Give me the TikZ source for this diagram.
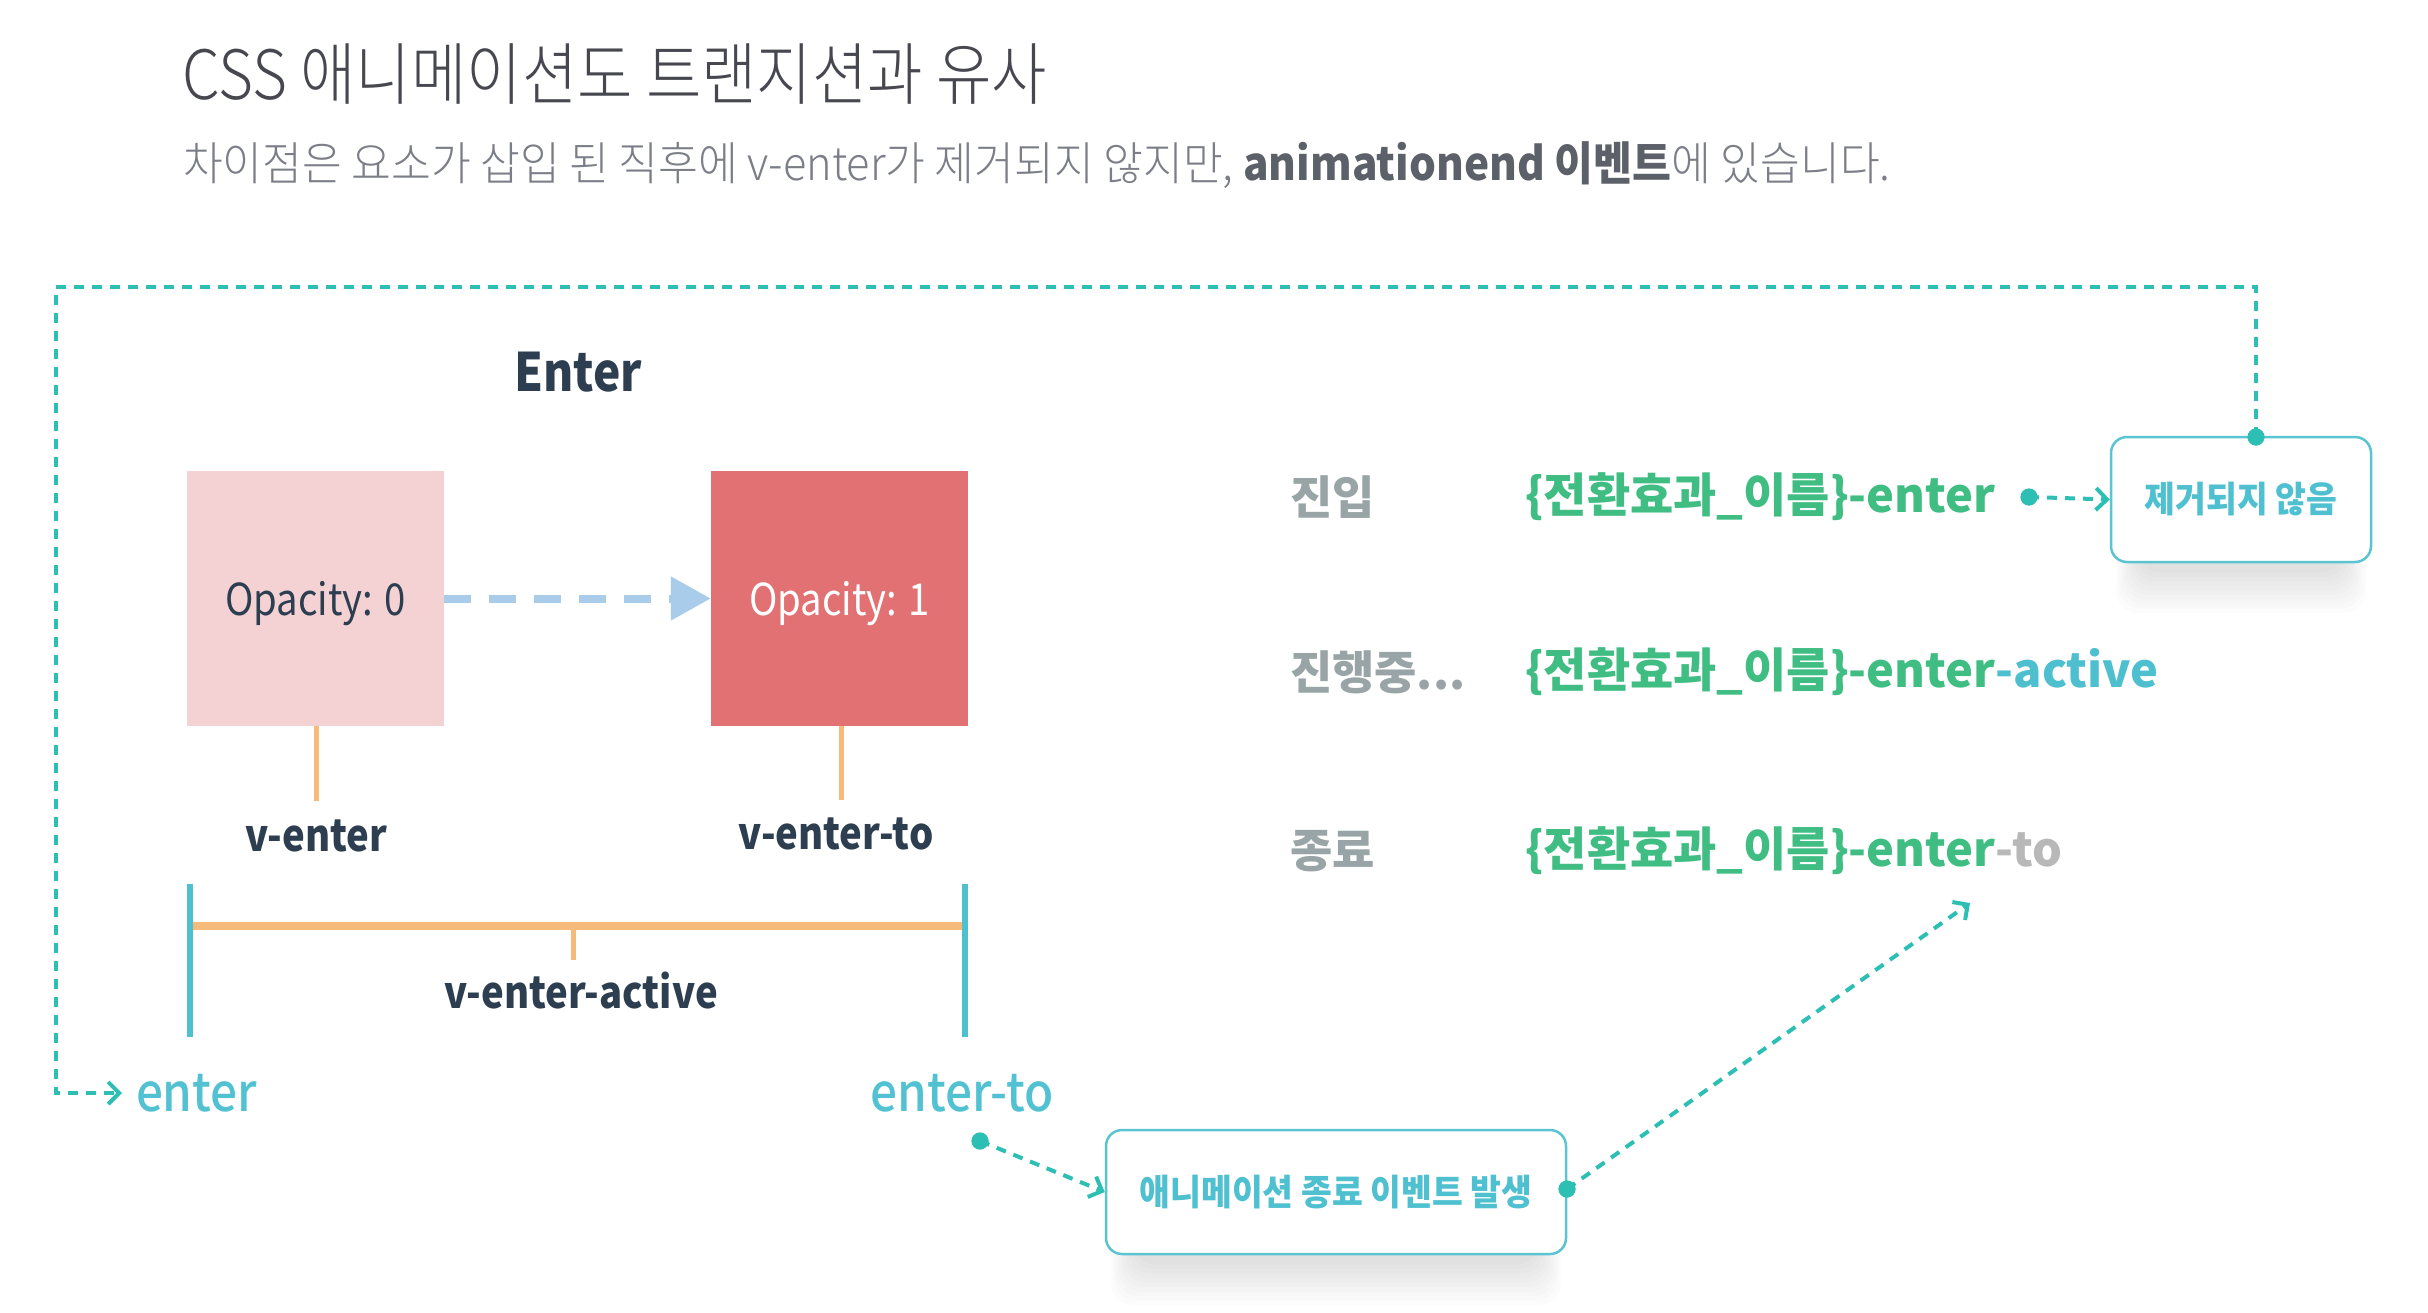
\documentclass[tikz,border=0pt]{standalone}
\usepackage{fontspec}
\setmainfont{Noto Sans CJK KR}
\newfontfamily\krtitle{Noto Sans CJK KR Light}[FakeStretch=0.885]
\newfontfamily\krsub{Noto Sans CJK KR Light}[FakeStretch=0.94]
\newfontfamily\krsubb{Noto Sans CJK KR}[FakeStretch=0.92]
\newfontfamily\krcond{Noto Sans CJK KR}[FakeStretch=0.87]
\newfontfamily\krboxf{Noto Sans CJK KR}[FakeStretch=0.93]
\newfontfamily\krmedc{Noto Sans CJK KR Medium}[FakeStretch=0.9]
\usetikzlibrary{arrows.meta}
\definecolor{tealc}{HTML}{2EBFB4}
\definecolor{boxc}{HTML}{5BC4D2}
\definecolor{boxtxt}{HTML}{4FC0D0}
\definecolor{entc}{HTML}{52C2D2}
\definecolor{greenc}{HTML}{3FBD82}
\definecolor{activec}{HTML}{4DBFCF}
\definecolor{toc}{HTML}{B8B8B8}
\definecolor{lblc}{HTML}{98A4A5}
\definecolor{darkc}{HTML}{2C3E50}
\definecolor{pinkc}{HTML}{F4D2D4}
\definecolor{redc}{HTML}{E27173}
\definecolor{bluec}{HTML}{A9CCEA}
\definecolor{orangec}{HTML}{F6BA7B}
\definecolor{barc}{HTML}{4FC0CF}
\definecolor{titlec}{HTML}{46474F}
\definecolor{subc}{HTML}{7B7E86}
\definecolor{subb}{HTML}{5C6068}
\newcommand\fsz[1]{\fontsize{#1}{#1}\selectfont}
\tikzset{
  txt/.style={inner sep=0pt, outer sep=0pt},
  tealdash/.style={draw=tealc, line width=4pt, dash pattern=on 10pt off 8pt},
  tealtip/.style={-{Straight Barb[length=11pt,width=22pt,line width=4pt]}},
  tealdot/.style={circle, fill=tealc, inner sep=0pt, minimum size=17pt},
  evbox/.style={draw=boxc, line width=2.5pt, rounded corners=16pt, fill=white, text=boxtxt, font=\krboxf\bfseries\fsz{36}},
  statebox/.style={minimum width=257pt, minimum height=255pt, inner sep=0pt},
  statetxt/.style={txt, font=\krcond\fsz{44}},
  orline/.style={draw=orangec, line width=5pt},
  tbar/.style={draw=barc, line width=6pt},
  darklbl/.style={txt, text=darkc, font=\krcond\bfseries\fsz{44}},
  hooklbl/.style={txt, text=entc, font=\krmedc\fsz{53}},
  rowlbl/.style={txt, anchor=west, text=lblc, font=\bfseries\fsz{46}},
  clslbl/.style={txt, anchor=west, text=greenc, font=\bfseries\fsz{47}},
}
\newcommand\softshadow[4]{%
  \foreach \i in {1,...,10}{%
    \fill[black, opacity=0.012, rounded corners=22pt]
      (#1+30-\i*2.5, #4-34+\i) rectangle (#3-30+\i*2.5, #4+6+\i*4.5);
  }%
}
\begin{document}
\begin{tikzpicture}[x=1pt,y=-1pt]
\useasboundingbox (0,0) rectangle (2428,1312);
\fill[white] (0,0) rectangle (2428,1312);

% headings
\node[txt, anchor=west, text=titlec, font=\krtitle\fsz{68}] (title) at (182,74) {CSS 애니메이션도 트랜지션과 유사};
\node[txt, anchor=west, text=subc, font=\krsub\fsz{46}] (sub) at (183,165)
  {차이점은 요소가 삽입 된 직후에 v-enter가 제거되지 않지만, {\krsubb\bfseries\color{subb}animationend 이벤트}에 있습니다.};

% left diagram
\node[txt, text=darkc, font=\krcond\bfseries\fsz{53}] (enterh) at (578,372) {Enter};
\node[statebox, fill=pinkc] (box1) at (315.5,598.5) {};
\node[statebox, fill=redc] (box2) at (839.5,598.5) {};
\node[statetxt, text=darkc] (op0) at ([yshift=-5pt]box1.center) {Opacity: 0};
\node[statetxt, text=white] (op1) at ([yshift=-5pt]box2.center) {Opacity: 1};
\draw[draw=bluec, line width=8pt, dash pattern=on 27pt off 18pt,
  -{Triangle[length=40pt,width=42pt]}] (box1.east) -- (box2.west);

\node[darklbl] (ven) at (316,836) {v-enter};
\node[darklbl] (vento) at (836,834) {v-enter-to};
\coordinate (ven top) at (316,801);
\coordinate (vento top) at (841,800);
\draw[orline] (box1.south -| ven top) -- (ven top);
\draw[orline] (box2.south -| vento top) -- (vento top);

\coordinate (barL top) at (190,884);
\coordinate (barL bot) at (190,1037);
\coordinate (barR top) at (965,884);
\coordinate (barR bot) at (965,1037);
\coordinate (spanL) at (190,926);
\coordinate (spanR) at (965,926);
\coordinate (spanM) at (573,926);
\coordinate (spanT) at (573,960);
\draw[draw=orangec, line width=8pt] (spanL) -- (spanR);
\draw[orline] (spanM) -- (spanT);
\draw[tbar] (barL top) -- (barL bot);
\draw[tbar] (barR top) -- (barR bot);
\node[darklbl] (vact) at (581,991) {v-enter-active};

\node[hooklbl, anchor=west] (hkenter) at (136,1093) {enter};
\node[hooklbl] (hkto) at (962,1093) {enter-to};

% right rows
\node[rowlbl] (r1) at (1290,497) {진입};
\node[rowlbl] (r2) at (1290,672) {진행중...};
\node[rowlbl] (r3) at (1290,851) {종료};
\node[clslbl] (c1) at (1525,497) {\{전환효과\_이름\}-enter};
\node[clslbl] (c2) at (1525,672) {\{전환효과\_이름\}-enter{\color{activec}-active}};
\node[clslbl] (c3) at (1525,851) {\{전환효과\_이름\}-enter{\color{toc}-to}};

% event boxes with shadows
\softshadow{2111}{437}{2371}{562}
\softshadow{1106}{1130}{1566}{1254}
\node[evbox, minimum width=260pt, minimum height=125pt] (keep) at (2241,499.5) {제거되지 않음};
\node[evbox, minimum width=460pt, minimum height=124pt] (evt) at (1336,1192) {애니메이션 종료 이벤트 발생};

% dots
\node[tealdot] (dkeep) at (2256,437) {};
\node[tealdot] (dc1) at (2029,497) {};
\node[tealdot] (dhk) at (980,1141) {};
\node[tealdot] (devt) at (1567,1189) {};
\coordinate (evttip) at (1970,903);

% connectors
\coordinate (frameTR) at (2256,287);
\coordinate (frameTL) at (56,287);
\coordinate (frameBL) at (56,1093);
\draw[tealdash, tealtip] (dkeep.center) -- (frameTR) -- (frameTL) -- (frameBL) -- ([xshift=-14pt]hkenter.west);
\node[tealdot] at (dkeep) {};
\draw[tealdash, tealtip] (dc1.center) -- (keep.west);
\draw[tealdash, tealtip] (dhk.center) -- (evt.west);
\draw[tealdash, tealtip] (devt.center) -- (evttip);
\node[tealdot] at (dc1) {};
\node[tealdot] at (dhk) {};
\node[tealdot] at (devt) {};
\end{tikzpicture}
\end{document}
